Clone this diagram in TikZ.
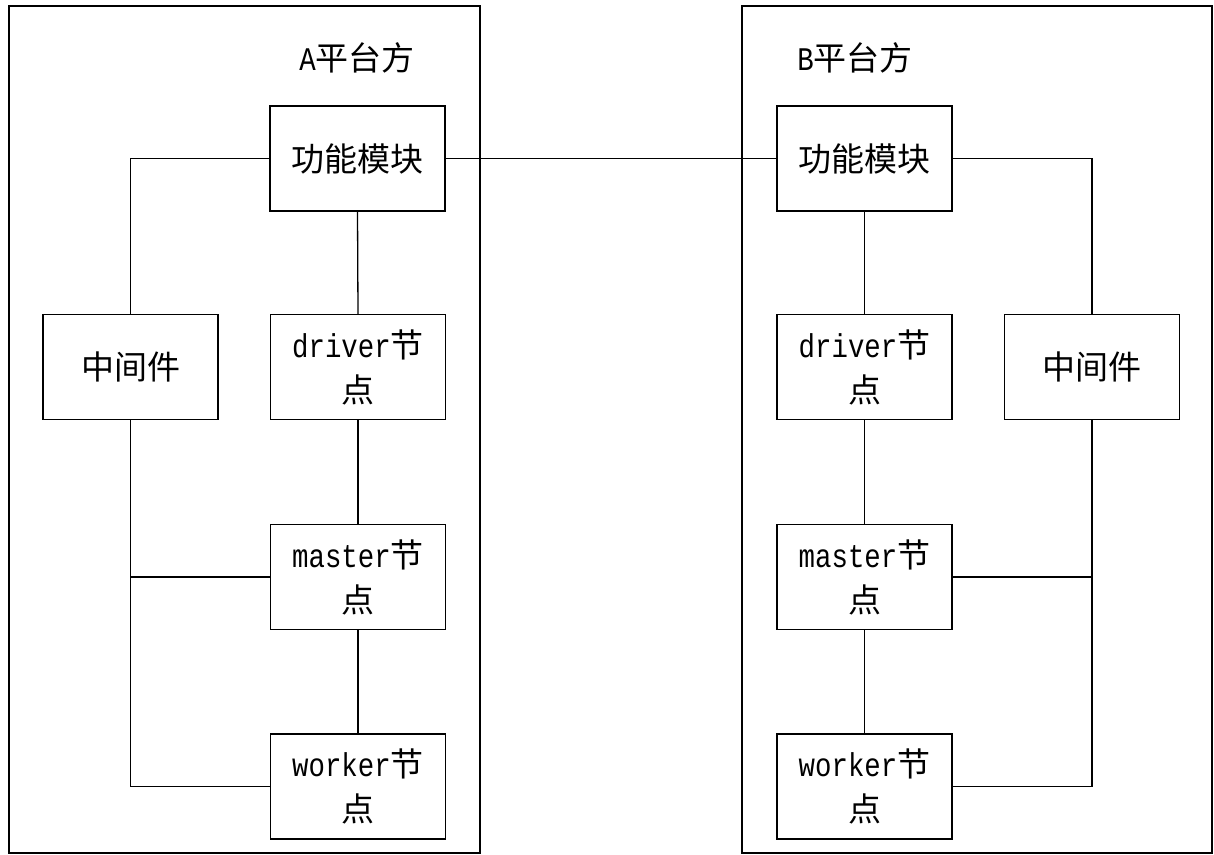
\documentclass[tikz,border=0pt]{standalone}
\usepackage{fontspec}
\setmainfont{Liberation Mono}[FakeStretch=0.83]
\newfontfamily\cjk{Noto Sans CJK SC}
\begin{document}
\begin{tikzpicture}[x=1pt,y=-1pt,
  box/.style={draw,line width=1.3pt,minimum width=175pt,minimum height=105pt,inner sep=0pt,align=center,font=\fontsize{33}{45}\selectfont},
  region/.style={draw,line width=1.3pt,inner sep=0pt},
  link/.style={draw,line width=1.3pt},
  title/.style={font=\fontsize{33}{45}\selectfont,inner sep=0pt}]
\useasboundingbox (0,0) rectangle (1214,854);
% platform frames
\node[region,minimum width=471pt,minimum height=847pt] (pa) at (244.5,429.5) {};
\node[region,minimum width=470pt,minimum height=847pt] (pb) at (977,429.5) {};
\node[title] (ta) at (357,58) {A{\cjk 平台方}};
\node[title] (tb) at (855,58) {B{\cjk 平台方}};
% A side
\node[box] (fa) at (357.5,158.5) {{\cjk 功能模块}};
\node[box] (ma) at (130.5,367) {{\cjk 中间件}};
\node[box] (da) at (358,367) {driver{\cjk 节}\\{\cjk 点}};
\node[box] (sa) at (358,577) {master{\cjk 节}\\{\cjk 点}};
\node[box] (wa) at (358,786.5) {worker{\cjk 节}\\{\cjk 点}};
% B side
\node[box] (fb) at (864.5,158.5) {{\cjk 功能模块}};
\node[box] (db) at (864.5,367) {driver{\cjk 节}\\{\cjk 点}};
\node[box] (mb) at (1092,367) {{\cjk 中间件}};
\node[box] (sb) at (864.5,577) {master{\cjk 节}\\{\cjk 点}};
\node[box] (wb) at (864.5,786.5) {worker{\cjk 节}\\{\cjk 点}};
% connectors
\draw[link] (fa.east) -- (fb.west);
\draw[link] (fa.west) -| (ma.north);
\draw[link] (fa.south) -- (da.north);
\draw[link] (da.south) -- (sa.north);
\draw[link] (sa.south) -- (wa.north);
\draw[link] (ma.south) |- (wa.west);
\draw[link] (sa.west) -- (sa.west -| ma.south);
\draw[link] (fb.east) -| (mb.north);
\draw[link] (fb.south) -- (db.north);
\draw[link] (db.south) -- (sb.north);
\draw[link] (sb.south) -- (wb.north);
\draw[link] (mb.south) |- (wb.east);
\draw[link] (sb.east) -- (sb.east -| mb.south);
\end{tikzpicture}
\end{document}
